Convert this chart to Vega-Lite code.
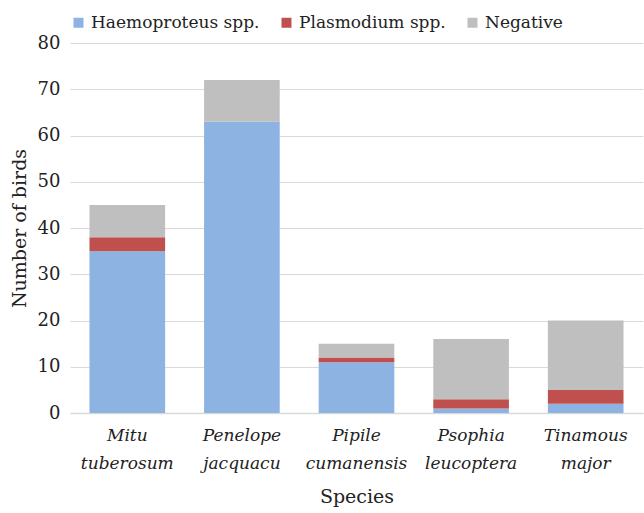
{
  "$schema": "https://vega.github.io/schema/vega-lite/v6.json",
  "width": 573,
  "height": 370,
  "padding": {"left": 10, "top": 14, "right": 1, "bottom": 2},
  "background": "white",
  "config": {
    "font": "DejaVu Serif",
    "view": {"stroke": null}
  },
  "data": {
    "values": [
      {"species": "Mitu tuberosum", "status": "Haemoproteus spp.", "k": 1, "n": 35},
      {"species": "Mitu tuberosum", "status": "Plasmodium spp.", "k": 2, "n": 3},
      {"species": "Mitu tuberosum", "status": "Negative", "k": 3, "n": 7},
      {"species": "Penelope jacquacu", "status": "Haemoproteus spp.", "k": 1, "n": 63},
      {"species": "Penelope jacquacu", "status": "Plasmodium spp.", "k": 2, "n": 0},
      {"species": "Penelope jacquacu", "status": "Negative", "k": 3, "n": 9},
      {"species": "Pipile cumanensis", "status": "Haemoproteus spp.", "k": 1, "n": 11},
      {"species": "Pipile cumanensis", "status": "Plasmodium spp.", "k": 2, "n": 1},
      {"species": "Pipile cumanensis", "status": "Negative", "k": 3, "n": 3},
      {"species": "Psophia leucoptera", "status": "Haemoproteus spp.", "k": 1, "n": 1},
      {"species": "Psophia leucoptera", "status": "Plasmodium spp.", "k": 2, "n": 2},
      {"species": "Psophia leucoptera", "status": "Negative", "k": 3, "n": 13},
      {"species": "Tinamous major", "status": "Haemoproteus spp.", "k": 1, "n": 2},
      {"species": "Tinamous major", "status": "Plasmodium spp.", "k": 2, "n": 3},
      {"species": "Tinamous major", "status": "Negative", "k": 3, "n": 15}
    ]
  },
  "mark": {"type": "bar"},
  "encoding": {
    "x": {
      "field": "species",
      "type": "nominal",
      "sort": null,
      "scale": {"paddingInner": 0.34, "paddingOuter": 0.17},
      "axis": {
        "title": "Species",
        "titleFont": "DejaVu Serif",
        "titleFontSize": 19,
        "titleFontWeight": "normal",
        "titleColor": "#222222",
        "titlePadding": 16,
        "labelAngle": 0,
        "labelFont": "DejaVu Serif",
        "labelFontSize": 17,
        "labelFontStyle": "italic",
        "labelColor": "#222222",
        "labelExpr": "split(datum.label, ' ')",
        "labelLineHeight": 28,
        "labelPadding": 14,
        "labelLimit": 0,
        "ticks": false,
        "domainColor": "#d9d9d9",
        "domainWidth": 1.5
      }
    },
    "y": {
      "field": "n",
      "type": "quantitative",
      "stack": "zero",
      "scale": {"domain": [0, 80]},
      "axis": {
        "title": "Number of birds",
        "titleFont": "DejaVu Serif",
        "titleFontSize": 19,
        "titleFontWeight": "normal",
        "titleColor": "#222222",
        "titlePadding": 8,
        "values": [0, 10, 20, 30, 40, 50, 60, 70, 80],
        "labelFont": "DejaVu Serif",
        "labelFontSize": 18,
        "labelColor": "#222222",
        "labelPadding": 10,
        "ticks": false,
        "domain": false,
        "gridColor": "#d9d9d9",
        "gridWidth": 1.2
      }
    },
    "color": {
      "field": "status",
      "type": "nominal",
      "scale": {
        "domain": ["Haemoproteus spp.", "Plasmodium spp.", "Negative"],
        "range": ["#8db3e2", "#c0504d", "#bfbfbf"]
      },
      "legend": {
        "orient": "top",
        "direction": "horizontal",
        "title": null,
        "labelFont": "DejaVu Serif",
        "labelFontSize": 17,
        "labelColor": "#222222",
        "labelLimit": 0,
        "symbolType": "square",
        "symbolSize": 100,
        "symbolStrokeWidth": 0,
        "columnPadding": 18,
        "offset": 12
      }
    },
    "order": {"field": "k", "type": "quantitative"}
  }
}
